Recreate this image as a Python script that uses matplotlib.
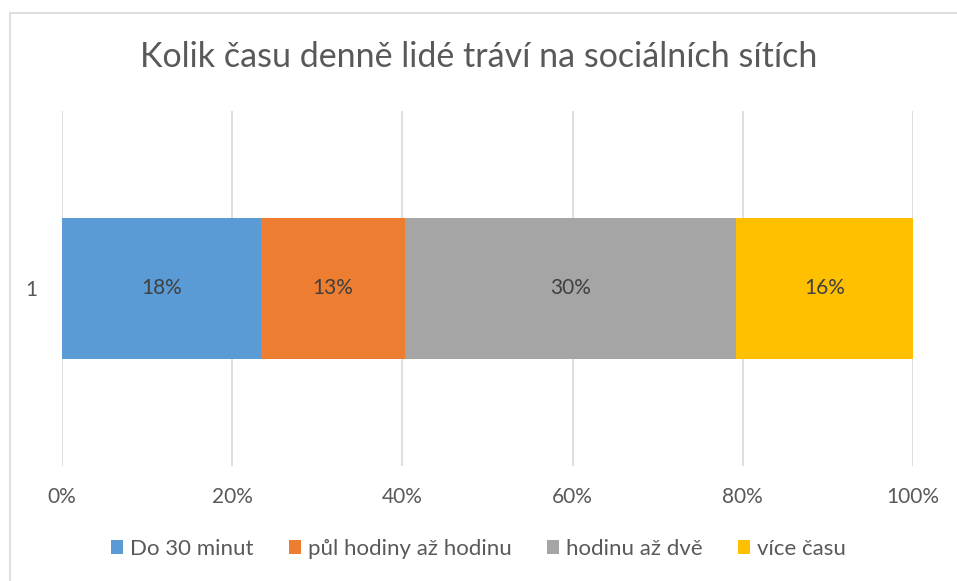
import matplotlib.pyplot as plt
import matplotlib.patches as mpatches
from matplotlib.ticker import FuncFormatter

# data (labels are the raw values, bars are 100% stacked)
categories = ['1']
series = ['Do 30 minut', 'půl hodiny až hodinu', 'hodinu až dvě', 'více času']
values = [18, 13, 30, 16]
colors = ['#5B9BD5', '#ED7D31', '#A5A5A5', '#FFC000']

plt.rcParams['font.family'] = ['Lato', 'DejaVu Sans']
txt = '#595959'

fig = plt.figure(figsize=(9.57, 5.81), dpi=100)
ax = fig.add_axes([62/957, 1-466/581, (913-62)/957, (466-111)/581])

# chart border
fig.patches.append(mpatches.Rectangle((10/957, -0.05), 1.0, 1-13/581+0.05,
                                      transform=fig.transFigure, fill=False,
                                      edgecolor='#D9D9D9', linewidth=1.2))

total = sum(values)
left = 0
for name, v, c in zip(series, values, colors):
    share = v / total
    ax.barh(0, share, left=left, height=0.397, color=c, label=name)
    ax.text(left + share/2, 0, f'{v}%', ha='center', va='center',
            fontsize=15, color='#404040')
    left += share

ax.set_xlim(0, 1)
ax.set_ylim(-0.5, 0.5)
ax.set_xticks([0, 0.2, 0.4, 0.6, 0.8, 1.0])
ax.xaxis.set_major_formatter(FuncFormatter(lambda x, p: f'{x*100:.0f}%'))
ax.set_yticks([0])
ax.set_yticklabels(categories)
ax.tick_params(axis='x', length=0, pad=15, labelsize=15, labelcolor=txt)
ax.tick_params(axis='y', length=0, pad=17.5, labelsize=15, labelcolor=txt)
ax.grid(axis='x', color='#D9D9D9', linewidth=1.2)
ax.set_axisbelow(True)
for s in ax.spines.values():
    s.set_visible(False)

fig.text(0.5, 1-57/581, 'Kolik času denně lidé tráví na sociálních sítích',
         ha='center', va='center', fontsize=24.5, color=txt)

fig.legend(loc='center', bbox_to_anchor=(0.5, 1-549/581), ncol=4, frameon=False,
           fontsize=16, labelcolor=txt, handlelength=0.55, handleheight=0.55,
           handletextpad=0.3, columnspacing=1.6)

fig.savefig('out.png', dpi=100)
